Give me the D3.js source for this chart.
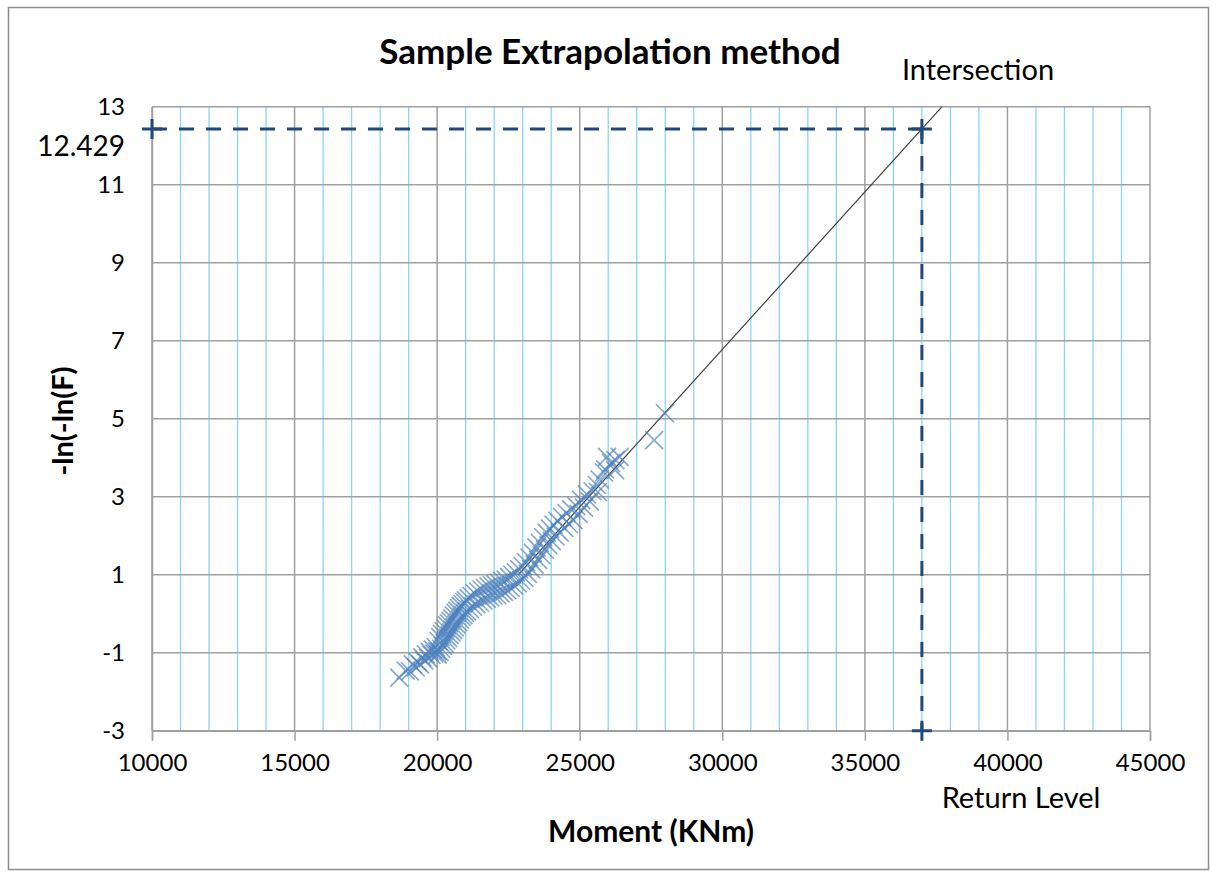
<!DOCTYPE html>
<html>
<head>
<meta charset="utf-8">
<script src="https://cdn.jsdelivr.net/npm/d3@7"></script>
<style>
  body { margin: 0; background: #fff; }
  text { font-family: Lato, "Open Sans", sans-serif; fill: #000; }
</style>
</head>
<body>
<svg id="chart"></svg>
<script>
let w = 1213;
let h = 878;

// scatter values
let moments = [
  18670, 18900, 19050, 19150, 19250, 19320, 19400, 19480, 19550, 19600, 19680, 19740, 19800, 19850, 19900, 19950, 20000,
  20020, 20050, 20080, 20110, 20140, 20170, 20200, 20230, 20260, 20290, 20320, 20350, 20380, 20410, 20440, 20470, 20500,
  20530, 20560, 20590, 20620, 20650, 20680, 20710, 20740, 20770, 20800, 20830, 20860, 20890, 20920, 20950, 20980, 21010,
  21050, 21100, 21150, 21200, 21260, 21320, 21380, 21440, 21500, 21560, 21620, 21680, 21740, 21800, 21860, 21920, 21980,
  22040, 22100, 22160, 22220, 22280, 22340, 22400, 22460,
  22520, 22580, 22640, 22700, 22760, 22820, 22880, 22940, 23000, 23060, 23120, 23180, 23240, 23300, 23360, 23420,
  23480, 23540, 23600, 23660, 23720, 23780, 23840, 23900, 23960, 24020, 24080, 24150, 24220, 24300, 24380, 24460,
  24540, 24620, 24700, 24780,
  24880, 24960, 25050, 25150, 25250, 25350, 25450, 25600, 25640, 25700, 25850, 25890, 25960, 26100, 26240, 26250, 26400,
  27610, 27990
];
let lnValues = [
  -1.64, -1.46, -1.48, -1.30, -1.38, -1.24, -1.30, -1.12, -1.20, -1.04, -1.14, -0.98, -1.06, -0.92, -1.02, -0.86, -0.96,
  -1.05, -0.70, -0.98, -0.60, -0.90, -0.52, -0.82, -0.45, -0.76, -0.38, -0.68, -0.30, -0.62, -0.24, -0.55, -0.18, -0.48,
  -0.12, -0.42, -0.05, -0.35, 0.02, -0.28, 0.08, -0.22, 0.14, -0.15, 0.20, -0.08, 0.25, -0.04, 0.30, 0.02, 0.34,
  0.06, 0.40, 0.12, 0.46, 0.18, 0.52, 0.24, 0.57, 0.28, 0.62, 0.34, 0.66, 0.38, 0.70, 0.42, 0.73, 0.46,
  0.76, 0.48, 0.80, 0.52, 0.84, 0.56, 0.88, 0.60,
  0.94, 0.66, 1.00, 0.72, 1.06, 0.78, 1.14, 0.85, 1.22, 0.92, 1.32, 1.02, 1.44, 1.14, 1.56, 1.26,
  1.70, 1.38, 1.82, 1.50, 1.96, 1.64, 2.08, 1.76, 2.18, 1.86, 2.28, 1.98, 2.38, 2.08, 2.48, 2.20,
  2.58, 2.30, 2.68, 2.40,
  2.76, 2.56, 2.92, 2.72, 3.06, 2.88, 3.14, 3.30, 3.12, 3.44, 3.62, 3.70, 4.02, 3.86, 3.68, 3.94, 4.02,
  4.45, 5.14
];

// extrapolated trend line
let trendX = [22850, 37707];
let trendY = [1.0, 13];

let returnLevel = 37000;
let intersectValue = 12.429;

let xTicks = [10000, 15000, 20000, 25000, 30000, 35000, 40000, 45000];
let xMinor = d3.range(10000, 45001, 1000);
let yTicks = [-3, -1, 1, 3, 5, 7, 9, 11, 13];

let svg = d3.select("#chart").attr("width", w).attr("height", h);

// chart border
svg.append("rect")
  .attr("x", 8.5).attr("y", 7.5)
  .attr("width", 1200).attr("height", 862)
  .attr("fill", "#fff")
  .attr("stroke", "#8c8c8c")
  .attr("stroke-width", 1.5);

let xScale = d3.scaleLinear().domain([10000, 45000]).range([152, 1150]);
let yScale = d3.scaleLinear().domain([-3, 13]).range([730.7, 106.7]);

// minor vertical grid (light blue)
svg.append("g").selectAll("line")
  .data(xMinor.filter(d => d % 5000 != 0))
  .enter().append("line")
  .attr("x1", d => xScale(d)).attr("x2", d => xScale(d))
  .attr("y1", yScale(13)).attr("y2", yScale(-3))
  .attr("stroke", "#8ad6f6")
  .attr("stroke-width", 1.3);

// major vertical grid
svg.append("g").selectAll("line")
  .data(xTicks)
  .enter().append("line")
  .attr("x1", d => xScale(d)).attr("x2", d => xScale(d))
  .attr("y1", yScale(13)).attr("y2", yScale(-3))
  .attr("stroke", "#a0a0a0")
  .attr("stroke-width", 1.5);

// horizontal grid
svg.append("g").selectAll("line")
  .data(yTicks)
  .enter().append("line")
  .attr("x1", xScale(10000)).attr("x2", xScale(45000))
  .attr("y1", d => yScale(d)).attr("y2", d => yScale(d))
  .attr("stroke", "#a0a0a0")
  .attr("stroke-width", 1.5);

// x axis
let xAxis = d3.axisBottom(xScale).tickValues(xTicks).tickSize(10).tickPadding(13).tickFormat(d => d);
let xAxisGroup = svg.append("g")
  .attr("transform", `translate(0,${yScale(-3)})`)
  .call(xAxis);
xAxisGroup.select(".domain").attr("stroke", "#a0a0a0").attr("stroke-width", 1.5);
xAxisGroup.selectAll(".tick line").attr("stroke", "#a0a0a0").attr("stroke-width", 1.5);
xAxisGroup.selectAll("text").attr("font-size", 24).attr("font-family", "Lato").attr("fill", "#000");

// y axis
let yAxis = d3.axisLeft(yScale).tickValues(yTicks).tickSize(0).tickPadding(27).tickFormat(d => d);
let yAxisGroup = svg.append("g")
  .attr("transform", `translate(${xScale(10000)},0)`)
  .call(yAxis);
yAxisGroup.select(".domain").attr("stroke", "#a0a0a0").attr("stroke-width", 1.5);
yAxisGroup.selectAll("text").attr("font-size", 24).attr("font-family", "Lato").attr("fill", "#000");

// trend line
svg.append("line")
  .attr("x1", xScale(trendX[0])).attr("y1", yScale(trendY[0]))
  .attr("x2", xScale(trendX[1])).attr("y2", yScale(trendY[1]))
  .attr("stroke", "#404040")
  .attr("stroke-width", 1.2);

// scatter crosses
svg.append("g").selectAll("path")
  .data(moments.map((m, i) => ({x: m, y: lnValues[i]})))
  .enter().append("path")
  .attr("transform", d => `translate(${xScale(d.x)},${yScale(d.y)})`)
  .attr("d", "M-9,-9L9,9M-9,9L9,-9")
  .attr("fill", "none")
  .attr("stroke", "#4f81bd")
  .attr("stroke-opacity", 0.7)
  .attr("stroke-width", 1.6);

// dashed guides to the intersection
let navy = "#1f497d";
svg.append("line")
  .attr("x1", xScale(10000)).attr("y1", yScale(intersectValue))
  .attr("x2", xScale(returnLevel)).attr("y2", yScale(intersectValue))
  .attr("stroke", navy).attr("stroke-width", 3).attr("stroke-dasharray", "15,12");
svg.append("line")
  .attr("x1", xScale(returnLevel)).attr("y1", yScale(intersectValue))
  .attr("x2", xScale(returnLevel)).attr("y2", yScale(-3))
  .attr("stroke", navy).attr("stroke-width", 3).attr("stroke-dasharray", "15,12");

let plusPts = [[10000, intersectValue], [returnLevel, intersectValue], [returnLevel, -3]];
svg.append("g").selectAll("path")
  .data(plusPts)
  .enter().append("path")
  .attr("transform", d => `translate(${xScale(d[0])},${yScale(d[1])})`)
  .attr("d", "M-10,0L10,0M0,-10L0,10")
  .attr("stroke", navy)
  .attr("stroke-width", 3);

// labels
svg.append("text")
  .attr("x", 610).attr("y", 64)
  .attr("text-anchor", "middle")
  .attr("font-size", 35).attr("font-weight", "bold")
  .text("Sample Extrapolation method");

svg.append("text")
  .attr("x", 978).attr("y", 80)
  .attr("text-anchor", "middle")
  .attr("font-size", 29)
  .text("Intersection");

svg.append("text")
  .attr("x", 1021).attr("y", 808)
  .attr("text-anchor", "middle")
  .attr("font-size", 29)
  .text("Return Level");

svg.append("text")
  .attr("x", 125).attr("y", yScale(intersectValue) + 27)
  .attr("text-anchor", "end")
  .attr("font-size", 28)
  .text(intersectValue);

svg.append("text")
  .attr("x", 651).attr("y", 842)
  .attr("text-anchor", "middle")
  .attr("font-size", 30).attr("font-weight", "bold")
  .text("Moment (KNm)");

svg.append("text")
  .attr("transform", "translate(73,421) rotate(-90)")
  .attr("text-anchor", "middle")
  .attr("font-size", 29).attr("font-weight", "bold")
  .text("-ln(-ln(F)");
</script>
</body>
</html>
